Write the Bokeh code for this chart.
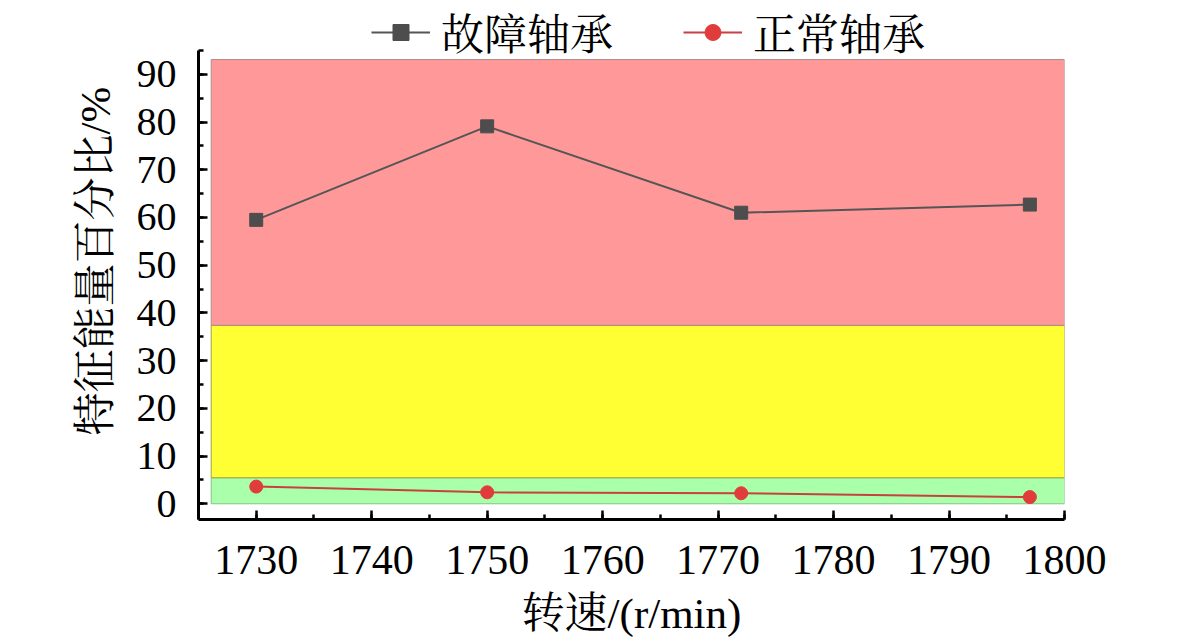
from bokeh.plotting import figure
from bokeh.models import Range1d, SingleIntervalTicker, Legend, LegendItem
from bokeh.embed import file_html
from bokeh.resources import INLINE

# ---- data ----
speed = [1730, 1750, 1772, 1797]
fault = [59.5, 79.1, 61.0, 62.7]
normal = [3.6, 2.4, 2.2, 1.4]
series_names = ["故障轴承", "正常轴承"]

band_bottom = [0, 5.45, 37.4]
band_top = [5.45, 37.4, 93.1]
band_left = [1726.1, 1726.1, 1726.1]
band_right = [1800, 1800, 1800]
band_fill = ["#aaffaa", "#ffff33", "#ff9999"]
band_line = ["#88c088", "#a0a040", "#b08888"]

x_label = "转速/(r/min)"
y_label = "特征能量百分比/%"

FONT = "Liberation Serif, Noto Serif CJK SC, Noto Sans CJK SC"

p = figure(frame_width=866, frame_height=517,
           min_border_left=198, min_border_right=101,
           min_border_top=2, min_border_bottom=104,
           x_range=Range1d(1725, 1800), y_range=Range1d(-3.3, 105.06),
           output_backend="svg", toolbar_location=None,
           outline_line_color=None, background_fill_color="white")

p.xgrid.visible = False
p.ygrid.visible = False

p.quad(left=band_left, right=band_right, bottom=band_bottom, top=band_top,
       fill_color=band_fill, line_color=band_line, line_width=1)

l1 = p.line(speed, fault, line_color="#555555", line_width=2)
s1 = p.scatter(speed, fault, marker="square", size=13,
               fill_color="#4d4d4d", line_color="#4d4d4d")
l2 = p.line(speed, normal, line_color="#c84040", line_width=2)
s2 = p.scatter(speed, normal, marker="circle", size=13,
               fill_color="#e03c3c", line_color="#e03c3c")

legend = Legend(items=[LegendItem(label=series_names[0], renderers=[l1, s1]),
                       LegendItem(label=series_names[1], renderers=[l2, s2])],
                orientation="horizontal", location=(173, 457),
                padding=0, margin=0, spacing=70,
                glyph_width=59, glyph_height=40, label_standoff=11,
                label_text_font=FONT, label_text_font_size="43px",
                label_text_color="black",
                border_line_color=None, background_fill_alpha=0)
p.add_layout(legend, "center")

for ax in (p.xaxis[0], p.yaxis[0]):
    ax.axis_line_width = 3
    ax.axis_line_color = "black"
    ax.major_tick_in = 9
    ax.major_tick_out = 0
    ax.minor_tick_in = 5
    ax.minor_tick_out = 0
    ax.major_tick_line_width = 2.5
    ax.minor_tick_line_width = 2.5
    ax.major_tick_line_color = "black"
    ax.minor_tick_line_color = "black"
    ax.major_label_text_font = FONT
    ax.major_label_text_color = "black"
    ax.axis_label_text_font = FONT
    ax.axis_label_text_font_style = "normal"
    ax.axis_label_text_color = "black"
    ax.axis_label_text_font_size = "43px"

p.yaxis[0].bounds = (-3.3, 95)
p.xaxis[0].ticker = SingleIntervalTicker(interval=10, num_minor_ticks=2)
p.yaxis[0].ticker = SingleIntervalTicker(interval=10, num_minor_ticks=2)
p.xaxis[0].major_label_text_font_size = "42px"
p.yaxis[0].major_label_text_font_size = "40px"
p.xaxis[0].major_label_standoff = 26
p.yaxis[0].major_label_standoff = 22
p.xaxis[0].axis_label = x_label
p.yaxis[0].axis_label = y_label
p.xaxis[0].axis_label_standoff = 13
p.yaxis[0].axis_label_standoff = 15

open("out.html", "w").write(file_html(p, INLINE))
